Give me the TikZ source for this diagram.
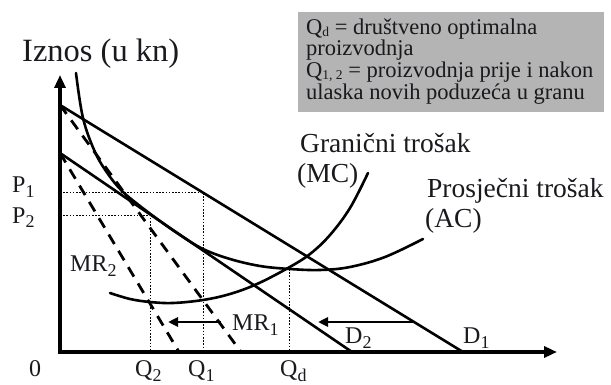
\documentclass[tikz,border=0pt]{standalone}
\usepackage{fontspec}
\usepackage{graphicx}
\setmainfont{Liberation Serif}
\usetikzlibrary{arrows.meta}
\definecolor{boxgray}{RGB}{180,180,180}
\definecolor{txt}{RGB}{25,25,30}
\newcommand\lsub[3]{\raisebox{-#2}{\fontsize{#1}{#1}\selectfont #3}}
\newcommand\bsub[1]{\lsub{18pt}{5pt}{#1}}
\newcommand\ssub[1]{\lsub{13.5pt}{2pt}{#1}}
\begin{document}
\begin{tikzpicture}[x=1pt,y=-1pt,
  curve/.style={line width=2.6pt, line cap=round},
  mrline/.style={line width=2.8pt, dash pattern=on 11pt off 8pt},
  guide/.style={line width=0.9pt, dash pattern=on 1.6pt off 1.6pt},
  axisline/.style={line width=3.6pt, -{Triangle[length=13pt,width=11pt]}},
  shiftarrow/.style={line width=2.6pt, -{Triangle[length=10pt,width=9pt]}},
  lab/.style={anchor=base west, inner sep=0pt, text=txt, font=\fontsize{24}{28}\selectfont},
  big/.style={anchor=base west, inner sep=0pt, text=txt, font=\fontsize{27.5}{30}\selectfont},
  boxtxt/.style={anchor=base west, inner sep=0pt, text=txt, font=\fontsize{22.5}{24}\selectfont}]
\useasboundingbox (0,0) rectangle (611,385);

% legend box
\fill[boxgray] (298,12) rectangle (604,112);
\node[boxtxt] (l1) at (306,34.5) {Q\ssub{d} = društveno optimalna};
\node[boxtxt] (l2) at (306,56) {proizvodnja};
\node[boxtxt] (l3) at (306,77.5) {Q\ssub{1, 2} = proizvodnja prije i nakon};
\node[boxtxt] (l4) at (306,99.5) {ulaska novih poduzeća u granu};

% key points
\coordinate (O) at (60,352);
\coordinate (ytop) at (60,75);
\coordinate (xend) at (557,352);
\coordinate (d1a) at (60,105);
\coordinate (d1b) at (463,352);
\coordinate (d2a) at (60,153);
\coordinate (d2b) at (352,352);
\coordinate (mr1b) at (241,352);
\coordinate (mr2b) at (179,352);
\coordinate (p1a) at (60,192);
\coordinate (p1b) at (203,192);
\coordinate (p2a) at (60,215);
\coordinate (p2b) at (150,215);
\coordinate (q1) at (203,352);
\coordinate (q2) at (150,352);
\coordinate (qdt) at (289,269);
\coordinate (qd) at (289,352);
\coordinate (a1s) at (221,322);
\coordinate (a1e) at (168,322);
\coordinate (a2s) at (414,322);
\coordinate (a2e) at (318,322);

% guides
\draw[guide] (p1a) -- (p1b) -- (q1);
\draw[guide] (p2a) -- (p2b) -- (q2);
\draw[guide] (qdt) -- (qd);

% demand and MR
\draw[curve] (d1a) -- (d1b);
\draw[curve] (d2a) -- (d2b);
\draw[mrline] (d1a) -- (mr1b);
\draw[mrline] (d2a) -- (mr2b);

% AC
\draw[curve] plot[smooth, tension=0.6] coordinates {(76,73) (83,118) (95,152) (108,174) (122,191) (140,206) (160,221) (180,235) (203,249) (230,259) (260,266) (290,269) (320,270) (350,267) (385,257) (423,239)};
% MC
\draw[curve] plot[smooth, tension=0.6] coordinates {(110,293) (130,299) (150,302) (173,303) (203,300) (230,294) (257,284) (288,268) (310,254) (330,235) (350,208) (368,173)};

% shift arrows
\draw[shiftarrow] (a1s) -- (a1e);
\draw[shiftarrow] (a2s) -- (a2e);

% axes
\draw[axisline] (O) -- (ytop);
\draw[axisline] (O) -- (xend);
\fill (O) ++(-1.8,-1.8) rectangle ++(3.6,3.6);

% labels
\node[anchor=base west, inner sep=0pt, text=txt, font=\fontsize{32.5}{34}\selectfont] (yl) at (22,62) {Iznos (u kn)};
\node[big] (mc1) at (300,153) {Granični trošak};
\node[big] (mc2) at (297,183) {(MC)};
\node[big] (ac1) at (427,198) {Prosječni trošak};
\node[big] (ac2) at (425,228) {(AC)};
\node[lab] (P1) at (12,193) {P\bsub{1}};
\node[lab] (P2) at (12,223) {P\bsub{2}};
\node[lab, anchor=base] (zero) at (35,376) {0};
\node[lab] (Q2) at (135,376) {Q\bsub{2}};
\node[lab] (Q1) at (188,376) {Q\bsub{1}};
\node[lab] (Qd) at (280,376) {Q\bsub{d}};
\node[lab] (MR2) at (70,272) {MR\bsub{2}};
\node[lab] (MR1) at (232,330) {MR\bsub{1}};
\node[lab] (D2) at (345,343) {D\bsub{2}};
\node[lab] (D1) at (463,343) {D\bsub{1}};
\end{tikzpicture}
\end{document}
